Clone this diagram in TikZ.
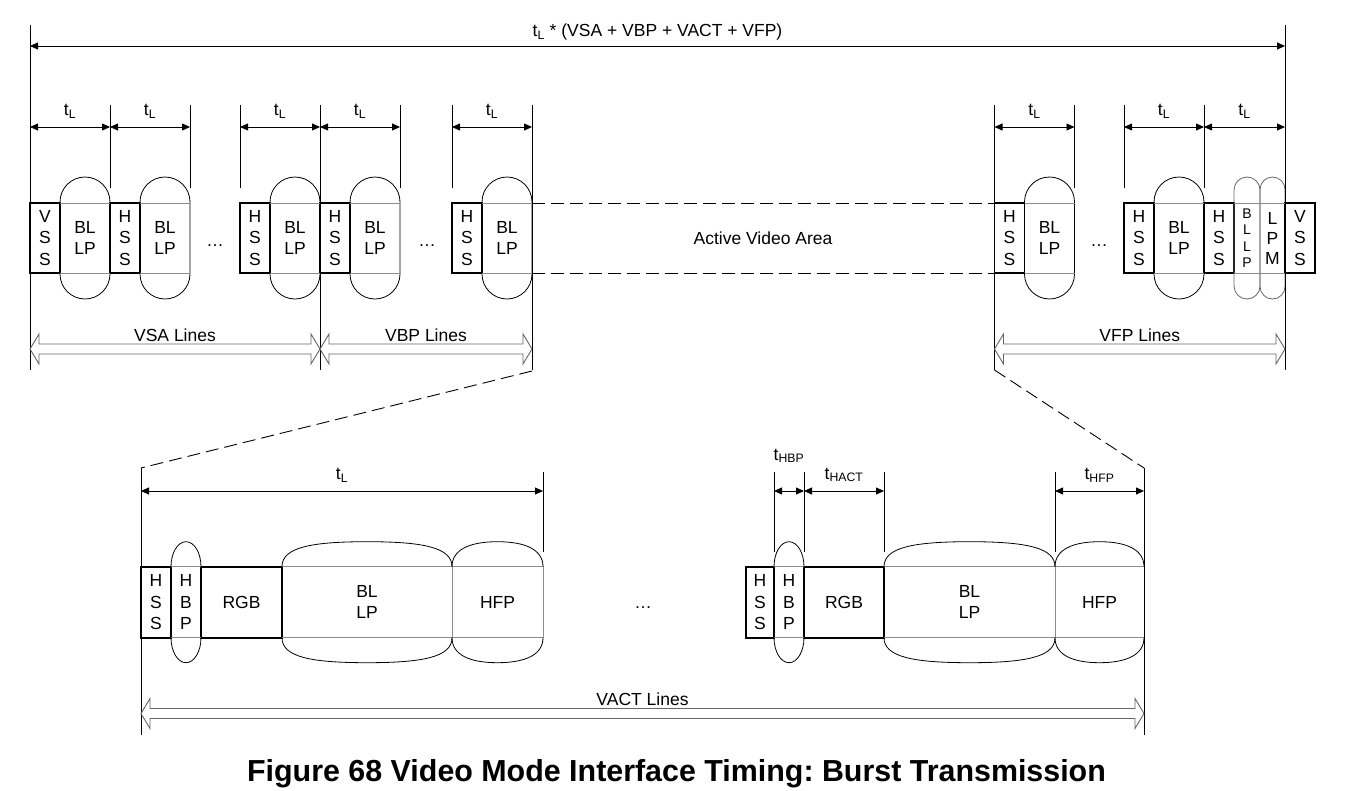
\documentclass[tikz,border=0pt]{standalone}
\usepackage{fontspec}
\setmainfont{Liberation Sans}
\usetikzlibrary{arrows.meta, calc, positioning}
\frenchspacing

\newcommand\diagfont{\fontsize{17.5}{21.5}\selectfont}
\newcommand\narrowfont{\fontsize{14}{16.5}\selectfont}
\newcommand\captionfont{\fontsize{30.4}{36}\selectfont\bfseries}

% hollow span arrow: left point, right point, y
\newcommand\spanarrow[3]{%
  \draw[hollow] ($(#1 |- 0,#3)$) -- ++(9,-15) -- ++(0,10) -- ($(#2 |- 0,#3)+(-9,-5)$)
    -- ++(0,-10) -- ($(#2 |- 0,#3)$) -- ++(-9,15) -- ++(0,-10)
    -- ($(#1 |- 0,#3)+(9,5)$) -- ++(0,10) -- cycle;}
% caps above and below a segment: node, horizontal ctrl, vertical ctrl
\newcommand\capseg[3]{%
  \draw[capline] (#1.north west) .. controls +(0,-#3) and +(-#2,0) .. ($(#1.north)+(0,-25)$)
    .. controls +(#2,0) and +(0,-#3) .. (#1.north east);
  \draw[capline] (#1.south west) .. controls +(0,#3) and +(-#2,0) .. ($(#1.south)+(0,25)$)
    .. controls +(#2,0) and +(0,#3) .. (#1.south east);}

\tikzset{
  every node/.style={font=\diagfont, outer sep=0pt},
  hbox/.style={draw, line width=1.7pt, minimum width=30, minimum height=70, inner sep=0pt, outer sep=0pt, align=center},
  pill/.style={draw, line width=0.8pt, rounded corners=25, minimum width=50, minimum height=122, inner sep=0pt, outer sep=0pt, align=center},
  seg/.style={minimum height=71, inner sep=0pt, outer sep=0pt, align=center},
  edge/.style={black!45, line width=0.8pt},
  capline/.style={black, line width=0.8pt},
  tick/.style={line width=0.8pt},
  dim/.style={line width=0.8pt, {Triangle[length=8pt,width=7pt]}-{Triangle[length=8pt,width=7pt]}},
  hollow/.style={draw=black!60, line width=0.9pt, line join=miter},
  zoomline/.style={line width=0.9pt, dash pattern=on 13pt off 6pt},
  lbl/.style={inner sep=1pt}
}

\begin{document}
\begin{tikzpicture}[x=1pt, y=-1pt, >=Stealth]
    \useasboundingbox (0,0) rectangle (1365,790);

    % top row: VSA and VBP lines
    \node[hbox] (vssL) at (45,238) {V\\S\\S};
    \node[pill, right=0pt of vssL] (pillA) {BL\\LP};
    \node[hbox, right=0pt of pillA] (hssA) {H\\S\\S};
    \node[pill, right=0pt of hssA] (pillB) {BL\\LP};
    \node (dotsA) at (215,246) {\dots};
    \node[hbox] (hssB) at (255,238) {H\\S\\S};
    \node[pill, right=0pt of hssB] (pillC) {BL\\LP};
    \node[hbox, right=0pt of pillC] (hssC) {H\\S\\S};
    \node[pill, right=0pt of hssC] (pillD) {BL\\LP};
    \node (dotsB) at (427,246) {\dots};
    \node[hbox] (hssD) at (467,238) {H\\S\\S};
    \node[pill, right=0pt of hssD] (pillE) {BL\\LP};

    \node (active) at (763,238) {Active Video Area};

    % top row: VFP lines
    \node[hbox] (hssE) at (1009.5,238) {H\\S\\S};
    \node[pill, right=0pt of hssE] (pillF) {BL\\LP};
    \node (dotsC) at (1099,246) {\dots};
    \node[hbox] (hssF) at (1139,238) {H\\S\\S};
    \node[pill, right=0pt of hssF] (pillG) {BL\\LP};
    \node[hbox, right=0pt of pillG] (hssG) {H\\S\\S};
    \node[pill, minimum width=26, rounded corners=13, draw=black!60, font=\narrowfont, right=0pt of hssG] (pillH) {B\\L\\L\\P};
    \node[pill, minimum width=25, rounded corners=12.5, draw=black!60, font={\fontsize{17.5}{20}\selectfont}, right=0pt of pillH] (pillI) {L\\P\\M};
    \node[hbox, right=0pt of pillI] (vssR) {V\\S\\S};

    \foreach \p in {pillA,pillB,pillC,pillD,pillE,pillF,pillG,pillH,pillI}
        \draw[edge] (\p.west |- vssL.north) -- (\p.east |- vssL.north)
                    (\p.west |- vssL.south) -- (\p.east |- vssL.south);

    % active video area
    \draw[zoomline] (pillE.east |- hssD.north) -- (hssE.north west);
    \draw[zoomline] (pillE.east |- hssD.south) -- (hssE.south west);

    % long verticals and ticks
    \draw[tick] (vssL.west |- 0,25) -- (vssL.west |- 0,370);
    \draw[tick] (vssR.west |- 0,25) -- (vssR.west |- 0,370);
    \foreach \p in {pillC.east, pillE.east, hssE.west}
        \draw[tick] (\p |- 0,105) -- (\p |- 0,370);
    \foreach \p in {pillA.east, pillB.east, hssB.west, pillD.east, hssD.west, pillF.east, hssF.west, pillG.east}
        \draw[tick] (\p |- 0,105) -- (\p |- 0,188);

    % timing
    \draw[dim] (vssL.west |- 0,46) -- node[lbl, midway, above=4.5pt] {t\textsubscript{L} * (VSA + VBP + VACT + VFP)} (vssR.west |- 0,46);
    \draw[dim] (vssL.west |- 0,127) -- node[lbl, midway, above=8pt] {t\textsubscript{L}} (pillA.east |- 0,127);
    \draw[dim] (pillA.east |- 0,127) -- node[lbl, midway, above=8pt] {t\textsubscript{L}} (pillB.east |- 0,127);
    \draw[dim] (hssB.west |- 0,127) -- node[lbl, midway, above=8pt] {t\textsubscript{L}} (pillC.east |- 0,127);
    \draw[dim] (pillC.east |- 0,127) -- node[lbl, midway, above=8pt] {t\textsubscript{L}} (pillD.east |- 0,127);
    \draw[dim] (hssD.west |- 0,127) -- node[lbl, midway, above=8pt] {t\textsubscript{L}} (pillE.east |- 0,127);
    \draw[dim] (hssE.west |- 0,127) -- node[lbl, midway, above=8pt] {t\textsubscript{L}} (pillF.east |- 0,127);
    \draw[dim] (hssF.west |- 0,127) -- node[lbl, midway, above=8pt] {t\textsubscript{L}} (pillG.east |- 0,127);
    \draw[dim] (pillG.east |- 0,127) -- node[lbl, midway, above=8pt] {t\textsubscript{L}} (vssR.west |- 0,127);

    % line groups
    \spanarrow{vssL.west}{pillC.east}{349}
    \spanarrow{pillC.east}{pillE.east}{349}
    \spanarrow{hssE.west}{vssR.west}{349}
    \node (vsa) at ($(vssL.west |- 0,335)!0.5!(pillC.east |- 0,335)$) {VSA Lines};
    \node (vbp) at ($(pillC.east |- 0,335)!0.5!(pillE.east |- 0,335)$) {VBP Lines};
    \node (vfp) at ($(hssE.west |- 0,335)!0.5!(vssR.west |- 0,335)$) {VFP Lines};

    % bottom row, first line
    \node[hbox, minimum height=71] (bHssA) at (156,602.2) {H\\S\\S};
    \node[seg, minimum width=30, right=0pt of bHssA] (bHbpA) {H\\B\\P};
    \node[hbox, minimum width=81, minimum height=71, right=0pt of bHbpA] (bRgbA) {RGB};
    \node[seg, minimum width=170, right=0pt of bRgbA] (bBllpA) {BL\\LP};
    \node[seg, minimum width=91, right=0pt of bBllpA] (bHfpA) {HFP};
    \node (dotsD) at (643,608) {\dots};

    % bottom row, last line
    \node[hbox, minimum width=28, minimum height=71] (bHssB) at (760,602.2) {H\\S\\S};
    \node[seg, minimum width=30, right=0pt of bHssB] (bHbpB) {H\\B\\P};
    \node[hbox, minimum width=80, minimum height=71, right=0pt of bHbpB] (bRgbB) {RGB};
    \node[seg, minimum width=171, right=0pt of bRgbB] (bBllpB) {BL\\LP};
    \node[seg, minimum width=89, right=0pt of bBllpB] (bHfpB) {HFP};

    \foreach \p in {bHbpA, bHbpB}
        \draw[edge] (\p.north west) -- (\p.north east) (\p.south west) -- (\p.south east);
    \foreach \p in {bBllpA, bHfpA, bBllpB, bHfpB}
        \draw[edge] (\p.north west) -- (\p.north east) -- (\p.south east) -- (\p.south west);
    \capseg{bHbpA}{8.3}{13.8}
    \capseg{bBllpA}{57}{19}
    \capseg{bHfpA}{28}{17}
    \capseg{bHbpB}{8.3}{13.8}
    \capseg{bBllpB}{57}{19}
    \capseg{bHfpB}{27}{17}

    % zoom lines
    \draw[zoomline] (pillE.east |- 0,371) -- (bHssA.west |- 0,468);
    \draw[zoomline] (hssE.west |- 0,370) -- (bHfpB.east |- 0,468);

    % bottom verticals and ticks
    \draw[tick] (bHssA.west |- 0,468) -- (bHssA.west |- 0,735);
    \draw[tick] (bHfpB.east |- 0,468) -- (bHfpB.east |- 0,735);
    \foreach \p in {bHfpA.east, bHbpB.west, bHbpB.east, bRgbB.east, bBllpB.east}
        \draw[tick] (\p |- 0,472) -- (\p |- 0,552);

    % bottom timing
    \draw[dim] (bHssA.west |- 0,491) -- node[lbl, midway, above=8pt] {t\textsubscript{L}} (bHfpA.east |- 0,491);
    \draw[dim] (bHbpB.west |- 0,491) -- (bHbpB.east |- 0,491);
    \node[lbl, anchor=base] (tHbp) at (bHbpB.center |- 0,460) {t\textsubscript{HBP}};
    \draw[dim] (bHbpB.east |- 0,491) -- node[lbl, midway, above=8pt] {t\textsubscript{HACT}} (bRgbB.east |- 0,491);
    \draw[dim] (bBllpB.east |- 0,491) -- node[lbl, midway, above=8pt] {t\textsubscript{HFP}} (bHfpB.east |- 0,491);

    \spanarrow{bHssA.west}{bHfpB.east}{713.5}
    \node (vact) at ($(bHssA.west |- 0,699)!0.5!(bHfpB.east |- 0,699)$) {VACT Lines};

    % caption
    \node[anchor=base, font=\captionfont] (caption) at (676.5,781) {Figure 68 Video Mode Interface Timing: Burst Transmission};
\end{tikzpicture}
\end{document}
